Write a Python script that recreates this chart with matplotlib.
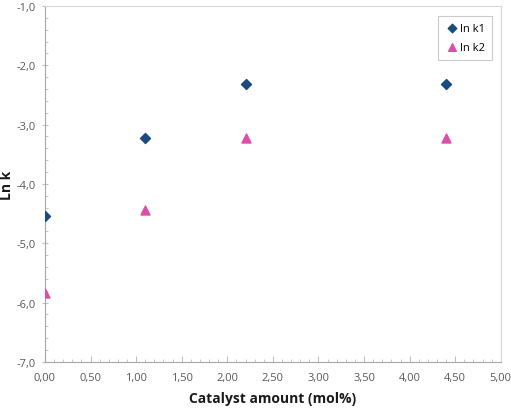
import numpy as np
import matplotlib
matplotlib.use("Agg")
import matplotlib.pyplot as plt
from matplotlib.ticker import MultipleLocator, FuncFormatter

# Данные
catalyst = [0.0, 1.1, 2.2, 4.4]
ln_k1 = [-4.54, -3.23, -2.31, -2.31]
ln_k2 = [-5.84, -4.44, -3.23, -3.23]

plt.rcParams["font.family"] = ["Open Sans", "DejaVu Sans"]

fig = plt.figure(figsize=(5.11, 4.10), dpi=100)
ax = fig.add_axes([0.088, 0.115, 0.892, 0.868])

ax.scatter(catalyst, ln_k1, marker="D", s=26, color="#1B4A7E", label="ln k1", zorder=3)
ax.scatter(catalyst, ln_k2, marker="^", s=42, color="#DE4DAA", label="ln k2", zorder=3)

ax.set_xlim(0, 5)
ax.set_ylim(-7, -1)
ax.xaxis.set_major_locator(MultipleLocator(0.5))
ax.xaxis.set_minor_locator(MultipleLocator(0.1))
ax.yaxis.set_major_locator(MultipleLocator(1.0))
ax.yaxis.set_minor_locator(MultipleLocator(0.2))
ax.xaxis.set_major_formatter(FuncFormatter(lambda v, p: f"{v:.2f}".replace(".", ",")))
ax.yaxis.set_major_formatter(FuncFormatter(lambda v, p: f"{v:.1f}".replace(".", ",")))

ax.tick_params(which="both", colors="#BFBFBF", labelcolor="#595959", labelsize=8)
ax.tick_params(axis="x", which="major", direction="in", length=4, pad=7)
ax.tick_params(axis="x", which="minor", direction="in", length=2.5)
ax.tick_params(axis="y", which="major", direction="inout", length=5, pad=4)
ax.tick_params(axis="y", which="minor", direction="in", length=2.5)

for side in ["left", "bottom"]:
    ax.spines[side].set_color("#A6A6A6")
for side in ["top", "right"]:
    ax.spines[side].set_color("#D9D9D9")

ax.set_xlabel("Catalyst amount (mol%)", fontsize=10, fontweight="bold", color="#1a1a1a", labelpad=6)
ax.set_ylabel("Ln k", fontsize=10, fontweight="bold", color="#1a1a1a", labelpad=2)

leg = ax.legend(loc="upper right", fontsize=8, frameon=True, fancybox=False,
                handletextpad=0.1, handlelength=1.3, borderpad=0.6, labelspacing=0.75,
                markerscale=0.85, bbox_to_anchor=(0.993, 0.987))
leg.get_frame().set_edgecolor("#BFBFBF")
leg.get_frame().set_linewidth(0.8)

fig.savefig("out.png", dpi=100)
